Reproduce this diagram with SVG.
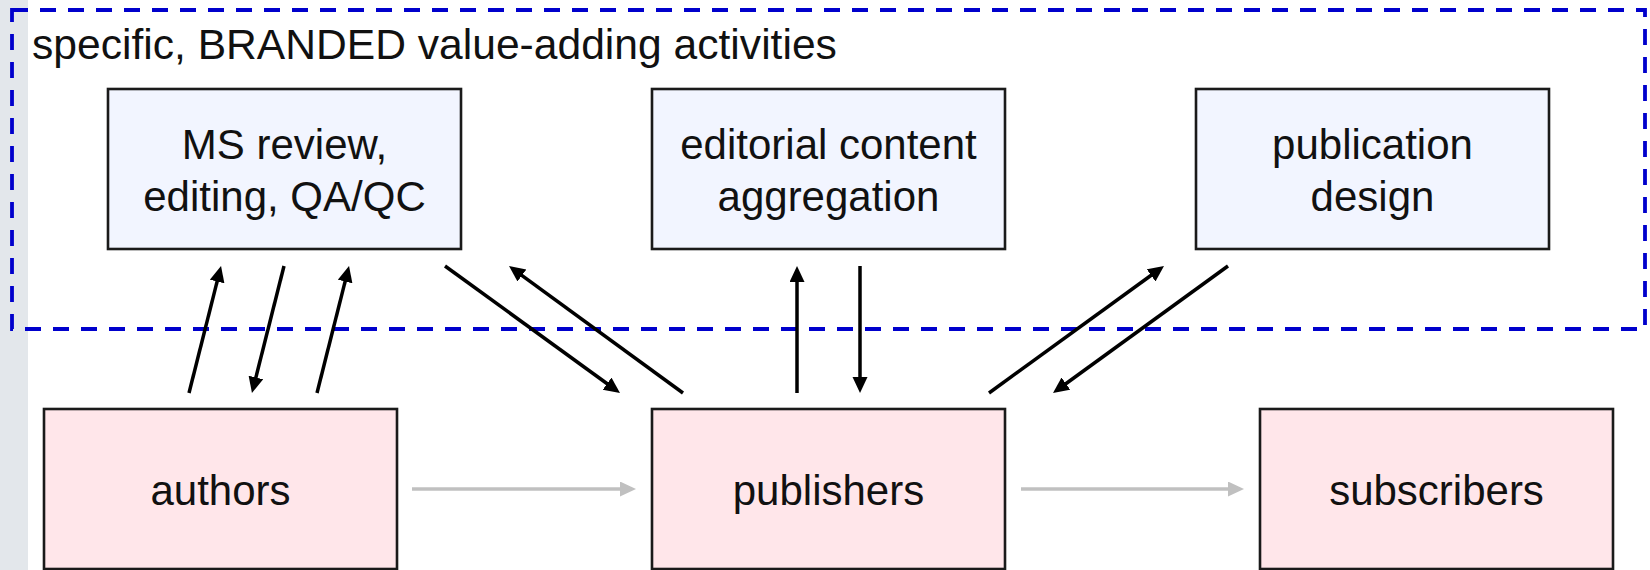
<svg xmlns="http://www.w3.org/2000/svg" width="1650" height="570" viewBox="0 0 1650 570">
  <style>
    .lbl { font-family: "Liberation Sans", Arial, sans-serif; font-size: 42px; fill: #111; }
    .head { font-size: 42.6px; }
    .mid { text-anchor: middle; }
    .act { fill: #f2f5ff; stroke: #1a1a1a; stroke-width: 2.6; }
    .party { fill: #ffe6ea; stroke: #1a1a1a; stroke-width: 2.6; }
    .flow { stroke: #000; stroke-width: 3.5; fill: none; marker-end: url(#head); }
    .chain { stroke: #c0c0c0; stroke-width: 3.5; fill: none; marker-end: url(#headGray); }
  </style>
  <defs>
    <marker id="head" markerUnits="userSpaceOnUse" markerWidth="16" markerHeight="16" refX="4" refY="7.5" orient="auto">
      <path d="M0,0 L16,7.5 L0,15 z" fill="#000"/>
    </marker>
    <marker id="headGray" markerUnits="userSpaceOnUse" markerWidth="16" markerHeight="16" refX="4" refY="7.5" orient="auto">
      <path d="M0,0 L16,7.5 L0,15 z" fill="#c0c0c0"/>
    </marker>
  </defs>

  <!-- page background and left margin strip -->
  <rect x="0" y="0" width="1650" height="570" fill="#fff"/>
  <rect x="0" y="0" width="28" height="570" fill="#e3e7eb"/>

  <!-- grouping frame for branded activities -->
  <g id="branded-frame">
    <rect x="12" y="10" width="1633" height="319" fill="none" stroke="#0000cc" stroke-width="3.8" stroke-dasharray="16 12"/>
    <text class="lbl head" x="32" y="59">specific, BRANDED value-adding activities</text>
  </g>

  <g id="ms-review">
    <rect class="act" x="108" y="89" width="353" height="160"/>
    <text class="lbl mid" x="284.5" y="159">MS review,</text>
    <text class="lbl mid" x="284.5" y="211">editing, QA/QC</text>
  </g>

  <g id="editorial">
    <rect class="act" x="652" y="89" width="353" height="160"/>
    <text class="lbl mid" x="828.5" y="159">editorial content</text>
    <text class="lbl mid" x="828.5" y="211">aggregation</text>
  </g>

  <g id="publication-design">
    <rect class="act" x="1196" y="89" width="353" height="160"/>
    <text class="lbl mid" x="1372.5" y="159">publication</text>
    <text class="lbl mid" x="1372.5" y="211">design</text>
  </g>

  <g id="authors">
    <rect class="party" x="44" y="409" width="353" height="160"/>
    <text class="lbl mid" x="220.5" y="505">authors</text>
  </g>

  <g id="publishers">
    <rect class="party" x="652" y="409" width="353" height="160"/>
    <text class="lbl mid" x="828.5" y="505">publishers</text>
  </g>

  <g id="subscribers">
    <rect class="party" x="1260" y="409" width="353" height="160"/>
    <text class="lbl mid" x="1436.5" y="505">subscribers</text>
  </g>

  <g id="connectors">
    <!-- authors <-> MS review -->
    <line class="flow" x1="189" y1="393" x2="218.1" y2="277.6"/>
    <line class="flow" x1="284" y1="266" x2="254.9" y2="381.4"/>
    <line class="flow" x1="317" y1="393" x2="346.1" y2="277.6"/>
    <!-- MS review <-> publishers -->
    <line class="flow" x1="445" y1="266" x2="610.3" y2="386"/>
    <line class="flow" x1="683" y1="393" x2="518.7" y2="273.1"/>
    <!-- publishers <-> editorial -->
    <line class="flow" x1="797" y1="393" x2="797" y2="278"/>
    <line class="flow" x1="860" y1="266" x2="860" y2="381"/>
    <!-- publishers <-> publication design -->
    <line class="flow" x1="989" y1="393" x2="1154.3" y2="273"/>
    <line class="flow" x1="1228" y1="266" x2="1062.7" y2="386"/>
    <!-- value chain -->
    <line class="chain" x1="412" y1="489" x2="624" y2="489"/>
    <line class="chain" x1="1021" y1="489" x2="1232" y2="489"/>
  </g>
</svg>
